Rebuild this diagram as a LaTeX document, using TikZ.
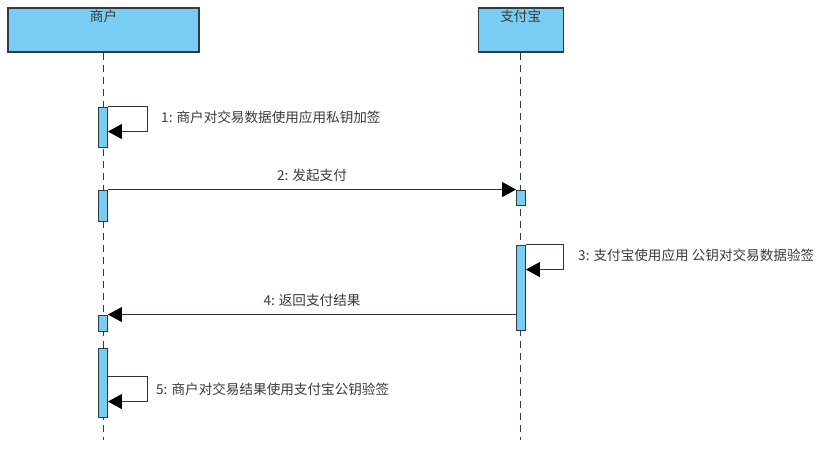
\documentclass[tikz,border=0pt]{standalone}
\usepackage{fontspec}
\setmainfont{Noto Sans CJK SC}
\usepackage{tikz}
\usetikzlibrary{positioning,arrows.meta}

\definecolor{actfill}{HTML}{79CDF3}
\definecolor{edge}{HTML}{2E3B44}
\definecolor{txt}{HTML}{3A3A3A}

\tikzset{
  head/.style={draw=edge,line width=1.2pt,fill=actfill,minimum height=44pt,inner sep=0pt},
  act/.style={draw=edge,line width=0.9pt,fill=actfill,minimum width=9pt,inner sep=0pt},
  life/.style={draw=edge,line width=0.9pt,dash pattern=on 7pt off 5pt},
  msg/.style={draw=edge!90!black,line width=0.9pt,-{Triangle[length=14pt,width=15pt,black]}},
  msgtext/.style={text=txt,font=\fontsize{13.6}{16}\selectfont,inner sep=1pt}
}

\begin{document}
\begin{tikzpicture}[x=1pt,y=-1pt]
        \useasboundingbox[fill=white] (0,0) rectangle (827,466);

        %heads
        \node[head,minimum width=191pt,label={[msgtext,anchor=north,inner sep=2pt]north:商户}] (merchant) at (103.5,30) {};
        \node[head,minimum width=85pt,right=278pt of merchant,label={[msgtext,anchor=north,inner sep=2pt]north:支付宝}] (alipay) {};

        \coordinate (merchantEnd) at (103,440);
        \coordinate (alipayEnd) at (520,440);

        %lifelines
        \draw[life] (merchant.south -| merchantEnd) -- (merchantEnd);
        \draw[life] (alipay.south -| alipayEnd) -- (alipayEnd);

        %activations
        \node[act,minimum height=40pt] (m1) at (103,127) {};
        \node[act,minimum height=31pt] (m2) at (103,205.5) {};
        \node[act,minimum height=16pt] (m3) at (103,323) {};
        \node[act,minimum height=69pt] (m4) at (103,382.5) {};
        \node[act,minimum height=15pt] (a1) at (521,197.5) {};
        \node[act,minimum height=85pt] (a2) at (521,287.5) {};

        %m>m
        \draw[msg] (m1.north east) -- ++(39,0) -- ++(0,25) -- ++(-39,0);
        \node[msgtext,anchor=west] (sign) at (160,117) {1: 商户对交易数据使用应用私钥加签};

        %m>a
        \draw[msg] (m2.north east) -- node[msgtext,midway,above=6pt] (pay) {2: 发起支付} (a1.north west);

        %a>a
        \draw[msg] (a2.north east) -- ++(37,0) -- ++(0,25) -- ++(-37,0);
        \node[msgtext,anchor=west] (verify) at (577,255) {3: 支付宝使用应用 公钥对交易数据验签};

        %a>m
        \draw[msg] (a2.west |- m3.north) -- node[msgtext,midway,above=6pt] (result) {4: 返回支付结果} (m3.north east);

        %m>m
        \draw[msg] ([yshift=-29pt]m4.north east) -- ++(39,0) -- ++(0,25) -- ++(-39,0);
        \node[msgtext,anchor=west] (check) at (155,389) {5: 商户对交易结果使用支付宝公钥验签};
\end{tikzpicture}
\end{document}
